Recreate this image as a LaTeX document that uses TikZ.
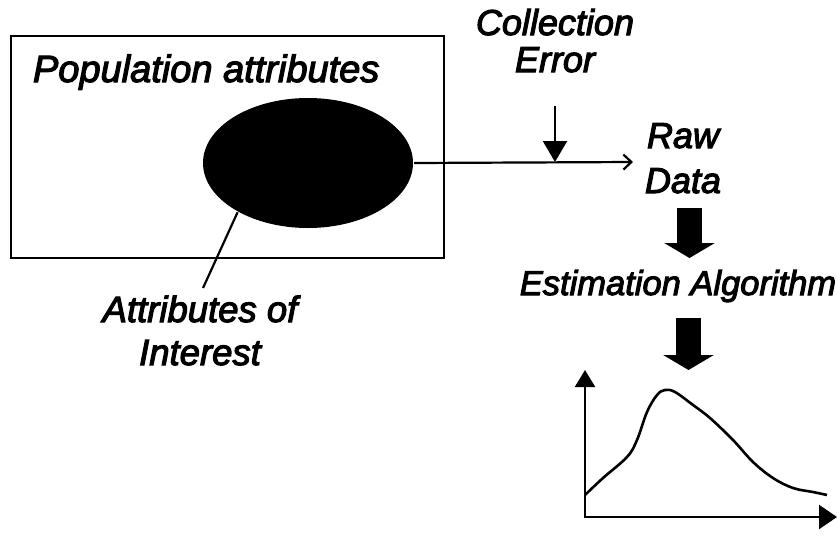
\documentclass[tikz,border=0pt]{standalone}
\usepackage{fontspec}
\setmainfont{Liberation Sans}
\newfontfamily\lblfont{Liberation Sans Italic}[FakeBold=3]
\usetikzlibrary{arrows.meta,shapes.geometric}
\begin{document}
\begin{tikzpicture}[x=1pt,y=-1pt,line width=2pt,
  lbl/.style={inner sep=0pt,align=center,font=\lblfont\fontsize{36}{37}\selectfont},
  blk/.style={line width=25pt,-{Triangle[length=15pt,width=50pt]}},
  thin/.style={line width=2.2pt}]
\useasboundingbox (0,0) rectangle (837,536);
% frame
\node[draw,thin,minimum width=433pt,minimum height=222pt,inner sep=0pt,anchor=north west] (pop) at (10,35) {};
\node[lbl,anchor=base west,font=\lblfont\fontsize{38}{40}\selectfont] (popt) at (32,82) {Population attributes};
% ellipse
\node[ellipse,fill=black,minimum width=210pt,minimum height=130pt,inner sep=0pt] (ell) at (308,163) {};
% labels
\node[lbl,anchor=base] (coll) at (555,72) {Collection\\Error};
\node[lbl,anchor=base,font=\lblfont\fontsize{36}{45}\selectfont] (raw) at (683,193) {Raw\\Data};
\node[lbl,anchor=base,font=\lblfont\fontsize{34.5}{40}\selectfont] (est) at (678,295) {Estimation Algorithm};
\node[lbl,anchor=base,font=\lblfont\fontsize{36.5}{43}\selectfont] (attr) at (200,365) {Attributes of\\Interest};
% connectors
\coordinate (rawin) at (633,162);
\coordinate (ceTop) at (555,106);
\coordinate (ceHit) at (555,162);
\coordinate (attrTop) at (203,288);
\draw[thin,-{Straight Barb[length=8pt,width=15pt,line width=2.2pt]}] (ell.east) -- (rawin);
\draw[thin,-{Triangle[length=21pt,width=24pt]}] (ceTop) -- (ceHit);
\draw[thin] (ell.215) -- (attrTop);
% block arrows
\coordinate (b1s) at (689.5,208);
\coordinate (b1e) at (689.5,258);
\coordinate (b2s) at (688.5,318);
\coordinate (b2e) at (688.5,370);
\draw[blk] (b1s) -- (b1e);
\draw[blk] (b2s) -- (b2e);
% plot
\coordinate (ytop) at (585,370);
\coordinate (orig) at (585,517);
\coordinate (xend) at (837,517);
\draw[thin,{Triangle[length=17pt,width=20pt]}-{Triangle[length=18pt,width=24pt]}] (ytop) -- (orig) -- (xend);
\draw[line width=2.6pt,line join=round] plot[smooth,tension=0.6] coordinates {(585,495) (603,478) (627,457) (637,440) (647,412) (657,395) (665,390) (675,392) (693,405) (710,418) (733,440) (753,462) (773,478) (793,488) (813,492) (827,495)};
\end{tikzpicture}
\end{document}
